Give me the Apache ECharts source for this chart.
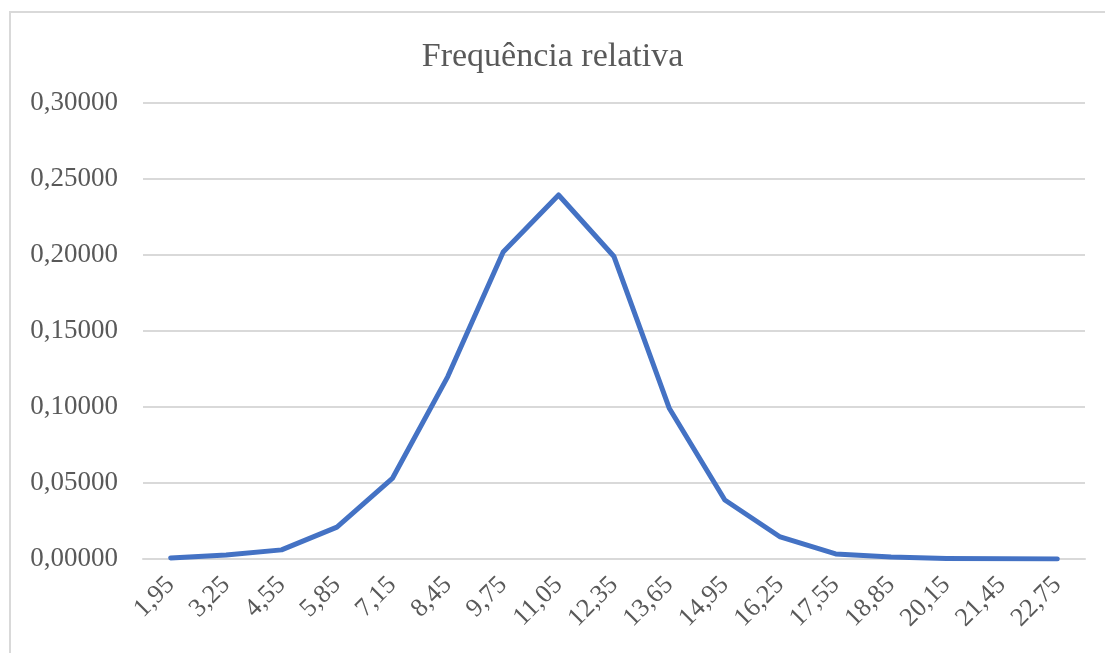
<!DOCTYPE html>
<html>
<head>
<meta charset="utf-8">
<script src="https://cdn.jsdelivr.net/npm/echarts@6/dist/echarts.min.js"></script>
<style>
  html, body { margin: 0; padding: 0; background: #fff; }
  #frame { position: absolute; left: 9px; top: 11px; width: 1096px; height: 642px;
           border-top: 2px solid #d9d9d9; border-left: 2px solid #d9d9d9; }
  #chart { position: absolute; left: 0; top: 0; width: 1105px; height: 653px; }
</style>
</head>
<body>
<div id="frame"></div>
<div id="chart"></div>
<script>
// classes (ponto médio)
const categories = ['1,95', '3,25', '4,55', '5,85', '7,15', '8,45', '9,75', '11,05', '12,35',
  '13,65', '14,95', '16,25', '17,55', '18,85', '20,15', '21,45', '22,75'];
// frequência relativa
const freqRelativa = [0.0007, 0.0026, 0.006, 0.021, 0.053, 0.12, 0.202, 0.2395, 0.199,
  0.099, 0.0388, 0.0145, 0.0033, 0.0013, 0.0004, 0.0001, 0.00003];

const font = '"Liberation Serif", "Times New Roman", serif';

const chart = echarts.init(document.getElementById('chart'));
const option = {
  animation: false,
  title: {
    text: 'Frequência relativa',
    left: 'center',
    top: 35,
    textStyle: { fontFamily: font, fontSize: 34, fontWeight: 'normal', color: '#595959' },
  },
  grid: { left: 143, right: 20, top: 103, bottom: 94, containLabel: false },
  xAxis: {
    type: 'category',
    data: categories,
    boundaryGap: true,
    axisTick: { show: false },
    axisLine: { lineStyle: { color: '#d9d9d9', width: 2 } },
    axisLabel: {
      rotate: 45,
      margin: 22,
      fontFamily: font,
      fontSize: 26,
      color: '#595959',
    },
  },
  yAxis: {
    type: 'value',
    min: 0,
    max: 0.3,
    interval: 0.05,
    axisLine: { show: false },
    axisTick: { show: false },
    splitLine: { lineStyle: { color: '#d9d9d9', width: 2 } },
    axisLabel: {
      margin: 25,
      fontFamily: font,
      fontSize: 27,
      color: '#595959',
      formatter: (v) => v.toFixed(5).replace('.', ','),
    },
  },
  series: [
    {
      name: 'Frequência relativa',
      type: 'line',
      data: freqRelativa,
      symbol: 'none',
      lineStyle: { color: '#4472c4', width: 5, cap: 'round', join: 'round' },
    },
  ],
};
chart.setOption(option, true);
</script>
</body>
</html>
